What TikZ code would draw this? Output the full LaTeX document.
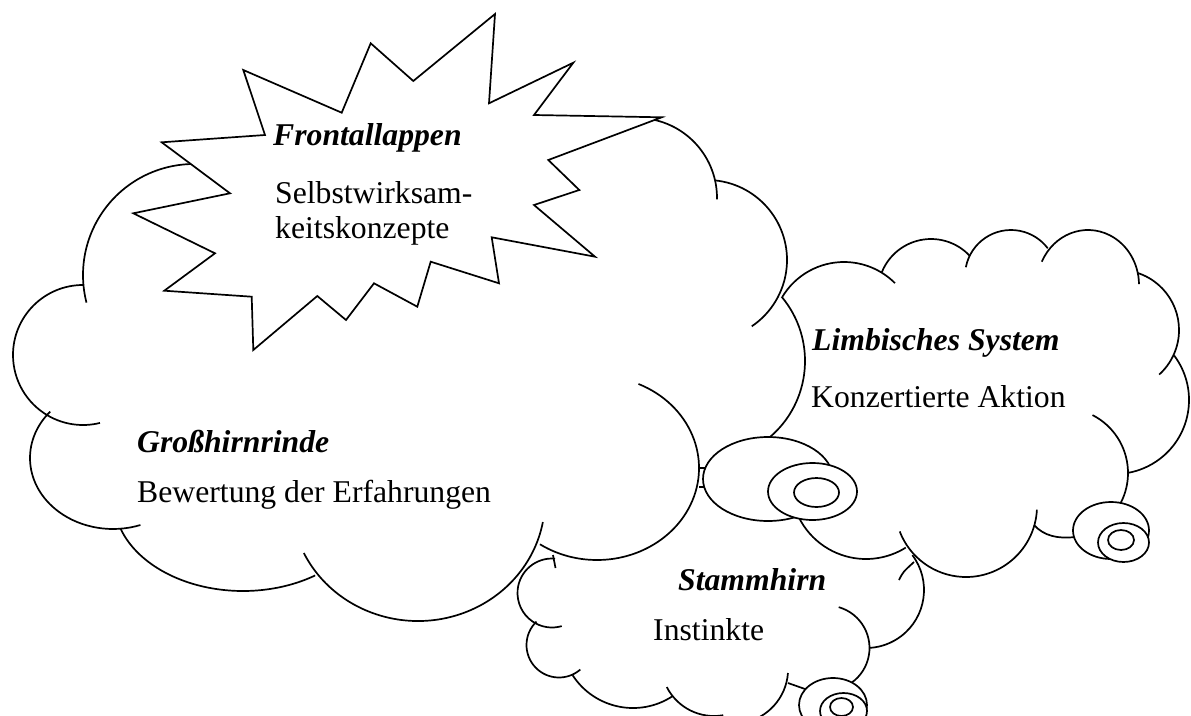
\documentclass[tikz,border=0pt]{standalone}
\usepackage{fontspec}
\setmainfont{Liberation Serif}
\newcommand{\carc}[6]{\draw[outl] (#1,#2) ++(#5:#3 and #4) arc[start angle=#5, end angle=#6, x radius=#3, y radius=#4];}
\begin{document}
\begin{tikzpicture}[x=1pt,y=-1pt,
  outl/.style={draw=black, line width=1.7pt},
  bub/.style={draw=black, fill=white, line width=1.7pt},
  title/.style={anchor=base west, inner sep=0pt, font=\fontsize{31.7}{36}\selectfont\bfseries\itshape},
  body/.style={anchor=base west, inner sep=0pt, font=\fontsize{31.7}{36}\selectfont}]
\useasboundingbox (0,0) rectangle (1191,715);
\begin{scope}
\clip (0,0) rectangle (1191,715);
% big cloud (Grosshirnrinde)
\carc{194}{275}{111}{111}{280}{165.6}
\carc{83}{355}{70}{70}{270}{76}
\carc{113}{458}{83}{71}{220.8}{70.7}
\carc{243}{500}{129}{91}{162}{56}
\carc{418}{500}{127}{121}{154}{10.5}
\carc{597}{468}{102}{92}{-66}{124}
\carc{637}{198}{80}{80}{-84}{1}
\carc{707}{260}{80}{80}{-84}{56}
\carc{705}{361}{100}{100}{-40}{85}
\draw[outl] (699,468) -- (707,468);
\draw[outl] (699,487) -- (707,487);
% limbic cloud
\carc{844}{334}{72}{72}{-149}{-45}
\carc{931}{292}{53}{53}{-158}{-43}
\carc{1011}{276}{46}{46}{-169}{-37}
\carc{1088}{285}{51}{55}{-155}{-1}
\carc{1119}{330}{60}{60}{-72}{48}
\carc{1115}{400}{74}{74}{-37}{80}
\carc{1063}{473}{65}{65}{-63}{40}
\carc{966}{506}{71}{71}{3}{159}
\carc{866}{484}{75}{75}{165}{58}
\draw[outl] (1034,525) .. controls (1044,536) and (1058,539) .. (1075,537);
% brainstem cloud
\carc{866}{590}{58}{58}{-37}{86}
\draw[outl] (899,580) .. controls (903,572) .. (914,562);
\carc{827}{648}{42.5}{42.5}{-74}{60}
\draw[outl] (553,555) -- (555.5,568);
\carc{552}{593}{34.5}{34.5}{275}{73.6}
\carc{559}{645}{32.5}{32.5}{226}{49}
\carc{633}{636}{72}{72}{147}{57}
\carc{714}{663}{53}{53}{153}{80}
\carc{733.5}{669}{54.6}{54.6}{4.2}{80}
\draw[outl] (788,683) -- (805,689);
% bubbles
\draw[bub] (768,479) ellipse[x radius=65, y radius=42];
\draw[bub] (812.5,491.5) ellipse[x radius=44.5, y radius=28.5];
\draw[bub] (816.5,492.5) ellipse[x radius=22.5, y radius=14.5];
\draw[bub] (1111,530.5) ellipse[x radius=38, y radius=28.5];
\draw[bub] (1123.5,542.5) ellipse[x radius=25.5, y radius=19.5];
\draw[bub] (1121,540) ellipse[x radius=13, y radius=10];
\draw[bub] (833,705) ellipse[x radius=34, y radius=27];
\draw[bub] (843.5,711) ellipse[x radius=23.5, y radius=18];
\draw[bub] (841.5,707) ellipse[x radius=11.5, y radius=9];
% starburst
\draw[bub, line join=miter] (495,14) -- (489,103.3) -- (573.3,62.7) -- (534,115) -- (661.7,117.3)
  -- (548.3,160) -- (579.3,190) -- (534,205) -- (595,256.7) -- (491.7,237.3) -- (499,283.3)
  -- (430.7,261.7) -- (417.3,306.7) -- (374,283.3) -- (346,320) -- (317.3,296) -- (253.3,350)
  -- (251.7,296.7) -- (164.3,290.7) -- (215,253.3) -- (133.3,213.3) -- (230,193.3)
  -- (161.7,142.3) -- (265,135) -- (243.3,70) -- (341.7,112.7) -- (370.7,43.3) -- (413.3,81) -- cycle;
\end{scope}
% texts
\node[title] (t1) at (273,145) {Frontallappen};
\node[body] (b1a) at (275,203) {Selbstwirksam-};
\node[body] (b1b) at (275,238) {keitskonzepte};
\node[title] (t2) at (137,452) {Großhirnrinde};
\node[body] (b2) at (137,502) {Bewertung der Erfahrungen};
\node[title] (t3) at (812,350) {Limbisches System};
\node[body] (b3) at (811,407) {Konzertierte Aktion};
\node[title] (t4) at (678,590) {Stammhirn};
\node[body] (b4) at (653,640) {Instinkte};
\end{tikzpicture}
\end{document}
